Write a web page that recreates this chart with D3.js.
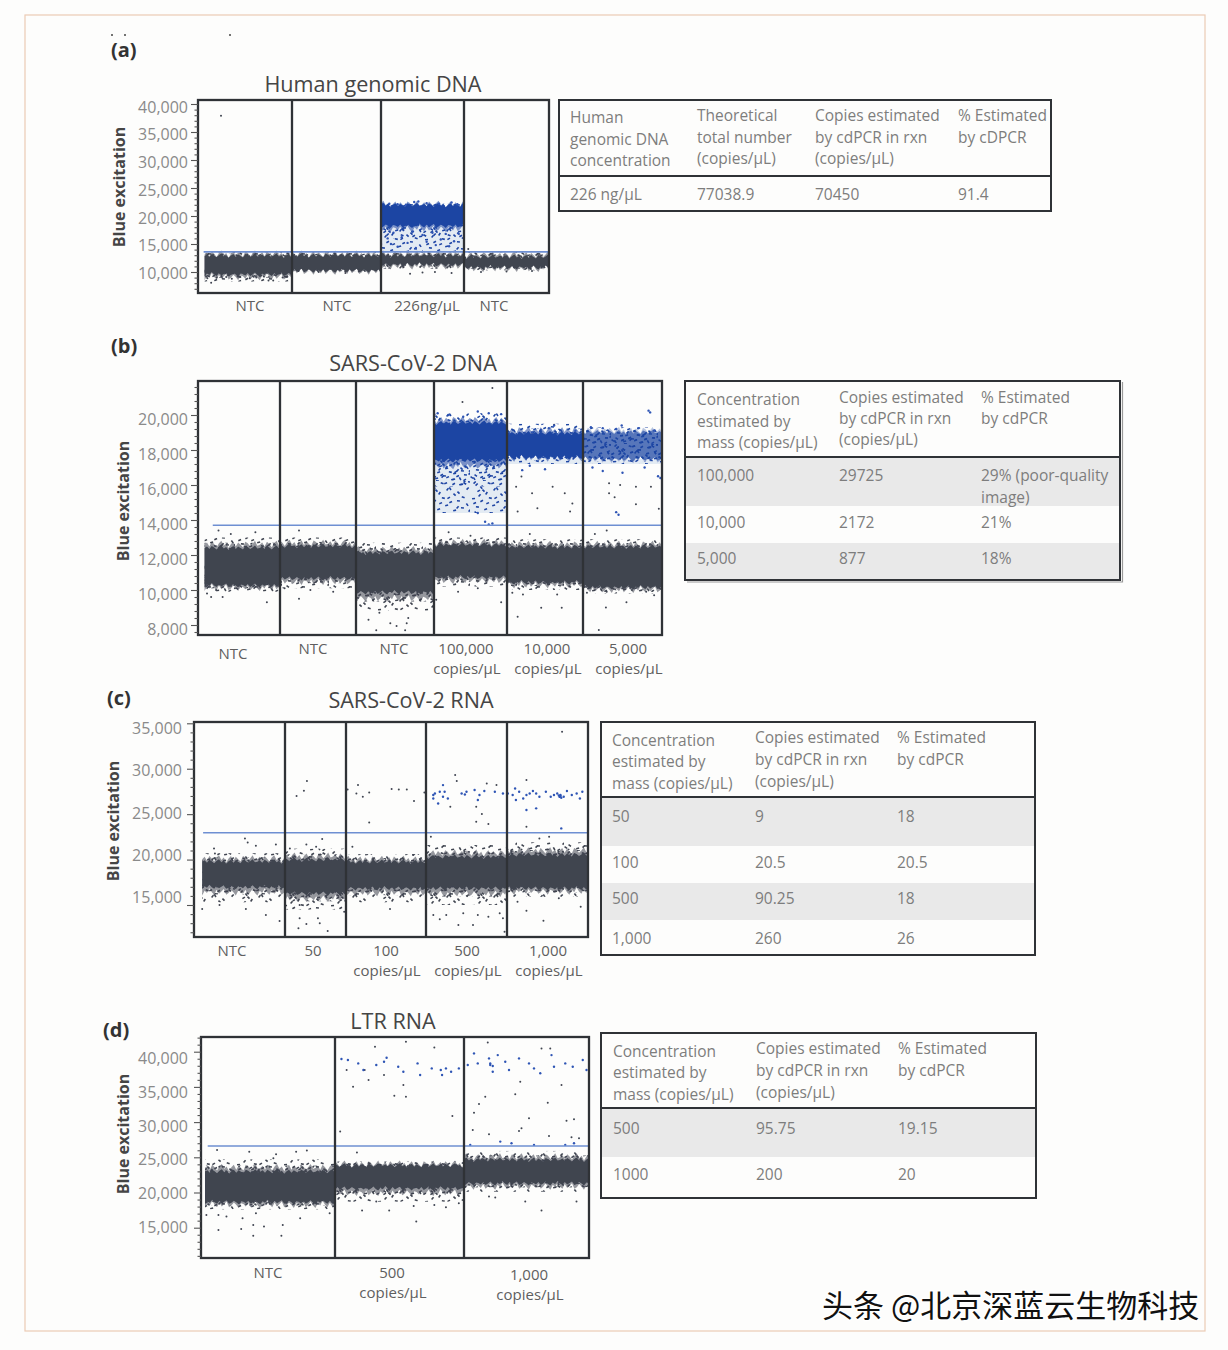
<!DOCTYPE html>
<html><head><meta charset="utf-8">
<script src="https://cdnjs.cloudflare.com/ajax/libs/d3/7.8.5/d3.min.js"></script>
<style>html,body{margin:0;padding:0;background:#fdfdfc}svg{display:block}text{font-family:"Open Sans",sans-serif}</style>
</head><body><svg id="c" width="1228" height="1350"></svg>
<script>
// ---------- panel (a) ----------
const aWells = [["NTC"],["NTC"],["226ng/µL"],["NTC"]];
const aTicks = [10000,15000,20000,25000,30000,35000,40000];
const aThreshold = 13600;
const aDarkBands = [[9640,12860,8300,13700],[10300,12900,10000,13600],[11400,12900,10600,13700],[10900,12700,10300,13600]];
const aBlueBands = [[2,18300,21900,13700,22300]];
const aDark = [[.245,37900],[.14,8100],[.1,8900],[.2,9000],[.3,9100],[.36,8800],[.45,9100],[.55,8900],[.62,9000],[.75,8500],[.8,8500],[.9,9000],[.95,9200],[.42,9300],[.25,9300],[.7,9200],[1.6,9800],[1.3,10000],[1.75,10100],[2.35,9700],[2.5,9900],[2.65,10000],[2.85,9800],[3.2,10000],[3.5,10100],[3.8,10200],[3.05,14100]];
const aBlue = [[2.1,22200],[2.2,22100],[2.4,22500],[2.45,22600],[2.55,22300],[2.7,22200],[2.85,22400],[2.92,22100],[2.3,22000],[2.08,16000],[2.12,15000],[2.15,17000],[2.2,14500],[2.25,16200],[2.32,15200],[2.38,17200],[2.42,14300],[2.5,16600],[2.55,15400],[2.62,17000],[2.66,14800],[2.72,15800],[2.78,16800],[2.82,14600],[2.88,15500],[2.93,16900]];
// ---------- panel (b) ----------
const bWells = [["NTC"],["NTC"],["NTC"],["100,000","copies/µL"],["10,000","copies/µL"],["5,000","copies/µL"]];
const bTicks = [8000,10000,12000,14000,16000,18000,20000];
const bThreshold = 13700;
const bDarkBands = [[10290,12400,9900,13000],[10690,12500,10100,13000],[9890,12110,8800,12700],[10740,12570,10200,13000],[10460,12460,10000,12900],[10170,12460,9800,12900]];
const bBlueBands = [[3,17430,19540,14400,20100],[4,17600,18950,17200,19500],[5,17500,19000,17200,19300]];
const bDark = [[.11,9800],[.16,9600],[.3,9600],[.84,9300],[.51,10300],[.22,10000],[.45,10100],[1.0,8100],[1.25,9500],[1.06,10100],[1.4,10000],[1.7,9900],[2.16,8300],[2.26,7700],[2.44,8100],[2.65,8100],[2.63,7700],[2.67,8400],[2.3,8700],[2.52,7950],[3.03,9450],[3.92,9300],[3.33,9900],[3.6,10100],[4.14,8470],[4.45,8990],[4.72,8990],[4.07,9850],[4.21,9750],[4.66,9750],[5.2,7710],[5.29,9000],[5.55,9300],[5.05,9850],[5.3,9900],[5.8,9900],[5.62,10000],[5.9,9700],[3.2,13300],[3.5,13100],[4.3,13200],[5.15,13200],[.25,13400],[.4,13200],[.7,13300],[1.25,13400],[3.8,21540],[3.39,20740],[4.62,19450],[4.33,18980],[4.19,16480],[4.12,15900],[4.33,15530],[4.6,15900],[4.76,15530],[4.14,14480],[4.4,14670],[4.86,14950],[4.83,14480],[5.33,16100],[5.47,16000],[5.67,15900],[5.86,15900],[5.33,15530],[5.67,14900],[5.4,15300],[5.96,14650],[5.3,13400]];
const bBlue = [[5.83,20250],[5.85,20150],[5.49,19400],[4.62,19400],[4.55,19250],[4.33,19000],[4.9,19100],[5.1,19300],[5.25,19250],[5.42,19200],[5.7,19250],[5.9,19100],[3.05,20100],[3.2,20000],[3.4,19900],[3.6,20200],[3.75,20100],[3.92,20050],[4.2,16850],[4.5,16900],[4.3,17100],[5.12,17000],[5.25,16800],[5.5,16700],[5.78,17000],[5.95,16500],[5.98,16400],[5.45,14300],[5.42,14450],[3.7,13900],[3.75,13750],[3.8,13800],[3.6,14400]];
// ---------- panel (c) ----------
const cWells = [["NTC"],["50"],["100","copies/µL"],["500","copies/µL"],["1,000","copies/µL"]];
const cTicks = [15000,20000,25000,30000,35000];
const cThreshold = 22950;
const cDarkBands = [[17000,19760,15300,20700],[16320,19950,14500,21200],[16870,19730,15300,20600],[16870,20280,15000,21600],[16870,20500,15900,21900]];
const cBlueBands = [];
const cDark = [[.56,22330],[.59,21890],[.68,21520],[.9,21670],[.22,21230],[.23,20680],[.09,14560],[.79,13900],[.94,13240],[.57,14560],[.28,15000],[1.36,28640],[1.31,27580],[1.19,26990],[1.61,22260],[1.35,21670],[1.24,13530],[1.22,12430],[1.35,12900],[1.54,13530],[1.57,12980],[1.7,12140],[1.97,14260],[1.24,15000],[1.08,21230],[1.51,21420],[2.15,28200],[2.02,27720],[2.13,27280],[2.21,26920],[2.29,27390],[2.57,27760],[2.66,27720],[2.76,27720],[2.85,26440],[2.29,24090],[2.98,27390],[2.55,14560],[2.08,21420],[2.84,20500],[3.36,29300],[3.38,28640],[3.75,28380],[3.87,28200],[3.3,25820],[3.62,25820],[3.69,25010],[3.62,24170],[3.77,23910],[3.06,22520],[3.09,13900],[3.25,13900],[3.17,13420],[3.4,12800],[3.58,12800],[3.46,14080],[3.64,13900],[3.77,13720],[3.91,14080],[3.95,13530],[3.97,12060],[4.68,34070],[4.24,28750],[4.24,23620],[4.13,15360],[4.24,14370],[4.45,13270],[4.91,14810],[4.64,15730],[4.4,22330],[4.52,22520]];
const cBlue = [[3.09,26730],[3.11,27280],[3.17,27470],[3.21,28200],[3.23,27470],[3.27,26730],[3.15,26180],[3.44,27280],[3.5,27470],[3.6,27650],[3.64,26550],[3.66,27100],[3.72,27540],[3.85,27470],[3.95,27280],[3.09,27100],[3.21,26920],[3.48,27170],[4.01,27280],[4.07,27100],[4.11,26550],[4.15,27470],[4.2,26730],[4.24,27100],[4.28,27280],[4.32,27540],[4.36,27280],[4.4,26920],[4.48,27470],[4.54,26920],[4.58,27100],[4.62,27280],[4.66,27100],[4.7,26920],[4.74,27540],[4.8,27100],[4.86,27280],[4.9,26730],[4.93,27470],[4.1,27830],[4.24,25450],[4.36,25640],[4.67,23430],[4.65,26900],[4.66,27000],[4.64,27050],[4.67,26800]];
// ---------- panel (d) ----------
const dWells = [["NTC"],["500","copies/µL"],["1,000","copies/µL"]];
const dTicks = [15000,20000,25000,30000,35000,40000];
const dThreshold = 26600;
const dDarkBands = [[18690,22950,17600,24700],[20640,23800,18700,24400],[21350,24600,20100,25900]];
const dBlueBands = [];
const dDark = [[.13,14690],[.3,14830],[.39,15400],[.47,15170],[.39,13840],[.6,13840],[.61,15400],[.13,16820],[.19,16580],[.31,16350],[.41,17060],[.74,16350],[.96,17060],[.04,16820],[.36,25800],[.79,25950],[.71,25800],[.56,25430],[.12,26040],[.54,24860],[1.31,40710],[1.55,41420],[1.77,40610],[1.09,37400],[1.23,37400],[1.38,36690],[1.53,35270],[1.14,35030],[1.26,35980],[1.46,33750],[1.55,33610],[1.91,30870],[1.04,28650],[1.17,25670],[1.63,15880],[1.21,17440],[1.42,17440],[1.86,17910],[1.61,18100],[1.77,18240],[1.32,18710],[1.96,18480],[2.19,41320],[2.62,40470],[2.69,40470],[2.45,35740],[2.78,35270],[2.17,33610],[2.41,33940],[2.12,32570],[2.67,32760],[2.08,31340],[2.52,30540],[2.82,30200],[2.88,30400],[2.07,28880],[2.44,28740],[2.46,29120],[2.2,28270],[2.68,28030],[2.86,27840],[2.92,27700],[2.62,17440],[2.49,18710],[2.2,19420],[2.9,18710],[2.25,19280]];
const dBlue = [[1.05,38960],[1.1,38820],[1.18,38340],[1.22,37400],[1.32,38110],[1.38,38580],[1.4,39150],[1.49,37870],[1.53,37160],[1.64,38340],[1.66,36690],[1.75,37630],[1.82,37400],[1.83,36690],[1.9,37160],[1.86,37630],[1.96,37630],[2.03,38110],[2.08,39760],[2.11,38340],[2.2,39050],[2.21,38110],[2.23,37160],[2.27,39520],[2.33,38580],[2.36,37400],[2.44,39050],[2.52,38340],[2.56,37630],[2.61,36930],[2.7,39520],[2.72,37870],[2.81,38340],[2.87,37870],[2.95,38820],[2.98,37400],[2.21,38340],[2.23,37960],[2.05,26760],[2.29,27230],[2.38,27000],[2.56,26760],[2.81,26760],[2.88,27000]];

// ---------- tables ----------
const tblHeadA = [["Human","genomic DNA","concentration"],["Theoretical","total number","(copies/µL)"],["Copies estimated","by cdPCR in rxn","(copies/µL)"],["% Estimated","by cDPCR"]];
const tblRowsA = [["226 ng/µL","77038.9","70450","91.4"]];
const tblHeadMass = [["Concentration","estimated by","mass (copies/µL)"],["Copies estimated","by cdPCR in rxn","(copies/µL)"],["% Estimated","by cdPCR"]];
const tblRowsB = [["100,000","29725",["29% (poor-quality","image)"]],["10,000","2172","21%"],["5,000","877","18%"]];
const tblRowsC = [["50","9","18"],["100","20.5","20.5"],["500","90.25","18"],["1,000","260","26"]];
const tblRowsD = [["500","95.75","19.15"],["1000","200","20"]];

// ---------- layout only ----------
const panels = [
 {letter:"(a)",lp:[111,57],title:"Human genomic DNA",tx:373,ty:91.5,L:198,R:549,T:100,B:293,breaks:[198,292,381,464,549],inset:.07,
  wells:aWells,ticks:aTicks,thr:aThreshold,thrFrom:.06,dark:aDarkBands,blue:aBlueBands,dd:aDark,bd:aBlue,
  y:[10000,272,40000,104],lab:[10000,273.5,40000,107],step:1000,lx:188,yt:[119,187],
  wl:[[250,306],[337,306],[427,306],[494,306]]},
 {letter:"(b)",lp:[111,353],title:"SARS-CoV-2 DNA",tx:413,ty:370.5,L:198,R:662,T:381,B:635,breaks:[198,280,356,434,507,583,662],inset:.08,
  wells:bWells,ticks:bTicks,thr:bThreshold,thrFrom:.18,dark:bDarkBands,blue:bBlueBands,dd:bDark,bd:bBlue,
  y:[8000,625,20000,415],lab:[8000,629.5,20000,419.5],step:400,lx:188,yt:[123,501],
  wl:[[233,654],[313,648.5],[394,648.5],[466,648.5],[547,648.5],[628,648.5]]},
 {letter:"(c)",lp:[107,705],title:"SARS-CoV-2 RNA",tx:411,ty:707.5,L:194,R:588,T:722,B:937,breaks:[194,285,346,426,507,588],inset:.09,
  wells:cWells,ticks:cTicks,thr:cThreshold,thrFrom:.1,dark:cDarkBands,blue:cBlueBands,dd:cDark,bd:cBlue,
  y:[15000,905,35000,723.3],lab:[15000,897.5,35000,728.5],step:1000,lx:182,yt:[113,821],
  wl:[[232,950.5],[313,950.5],[386,950.5],[467,950.5],[548,950.5]]},
 {letter:"(d)",lp:[103,1037],title:"LTR RNA",tx:393,ty:1028.5,L:201,R:589,T:1037,B:1258,breaks:[201,335,464,589],inset:.03,
  wells:dWells,ticks:dTicks,thr:dThreshold,thrFrom:.05,dark:dDarkBands,blue:dBlueBands,dd:dDark,bd:dBlue,
  y:[15000,1227.7,40000,1051.7],lab:[15000,1227.5,40000,1058.5],step:1000,lx:188,yt:[123,1134],
  wl:[[268,1272.5],[392,1272.5],[529,1274.5]]}
];
const tables = [
 {x:559,y:100,w:492,h:111,sep:176,cols:[570,697,815,958],head:tblHeadA,headY:[[118,140,161],[116,138,159],[116,138,159],[116,138]],rows:tblRowsA,rowY:[195],bands:[]},
 {x:685,y:381,w:435,h:199,sep:457,cols:[697,839,981],head:tblHeadMass,headY:[[400,422,443],[398,419,440],[398,419]],rows:tblRowsB,rowY:[476,523,559],bands:[[457,506],[543,580]],shadow:1},
 {x:601,y:722,w:434,h:233,sep:797,cols:[612,755,897],head:tblHeadMass,headY:[[741,762,784],[738,760,782],[738,760]],rows:tblRowsC,rowY:[817,863,899,939],bands:[[797,846],[883,920]]},
 {x:601,y:1033,w:435,h:165,sep:1108,cols:[613,756,898],head:tblHeadMass,headY:[[1052,1073,1095],[1049,1071,1093],[1049,1071]],rows:tblRowsD,rowY:[1129,1175],bands:[[1108,1157]]}
];
const speckTile = [[3,2],[11,5],[18,1],[27,6],[36,3],[43,8],[7,10],[15,13],[23,9],[31,12],[39,15],[2,17],[10,20],[19,16],[26,21],[34,19],[44,22],[6,25],[14,28],[22,24],[30,29],[38,26],[1,32],[12,34],[20,31],[28,35],[37,33],[45,30],[8,15],[41,1],[16,22],[33,27],[5,30],[24,17],[40,36],[13,8],[29,3],[35,10],[18,33],[3,22]];
const edgeWiggle = [0,1.5,-1,2,.5,-1.5,1,2.5,-.5,1,-2,.5,2,-1,1.5,0,-1.5,2,1,-1,.5,2.5,-.5];
const DARK="#3f4450", BLUE="#1c45a3", DOTBLUE="#2f55b5", LINE="#6e8fd2", FRAME="#2f3236";

const svg = d3.select("#c");
const defs = svg.append("defs");
defs.append("filter").attr("id","soft").attr("x","-5%").attr("y","-5%").attr("width","110%").attr("height","110%")
    .append("feGaussianBlur").attr("stdDeviation",.4);
[["spD",DARK,0],["spB",BLUE,0],["spD2",DARK,1],["spB2",BLUE,1]].forEach(([id,col,shift])=>{
  const p = defs.append("pattern").attr("id",id).attr("patternUnits","userSpaceOnUse").attr("width",47).attr("height",37);
  p.selectAll("rect").data(speckTile).join("rect")
   .attr("x",d=>(d[0]+shift*7)%47).attr("y",d=>(d[1]+shift*11)%37).attr("width",3).attr("height",1.6)
   .attr("transform",d=>`rotate(${(d[0]*37+d[1]*13)%120-60} ${(d[0]+shift*7)%47} ${(d[1]+shift*11)%37})`).attr("fill",col);
});

svg.append("rect").attr("width",1228).attr("height",1350).attr("fill","#fdfdfc");
svg.append("rect").attr("x",25).attr("y",15).attr("width",1180).attr("height",1316).attr("fill","none").attr("stroke","#eccbb4").attr("stroke-width",1.2);
svg.selectAll("circle.stray").data([[112,35],[125,35],[230,35]]).join("circle").attr("class","stray").attr("cx",d=>d[0]).attr("cy",d=>d[1]).attr("r",1).attr("fill","#444");

panels.forEach(P=>{
  const g = svg.append("g");
  const n = P.wells.length;
  const x = d3.scaleLinear().domain(d3.range(n+1)).range(P.breaks);
  const y = d3.scaleLinear().domain([P.y[0],P.y[2]]).range([P.y[1],P.y[3]]);
  const lab = d3.scaleLinear().domain([P.lab[0],P.lab[2]]).range([P.lab[1],P.lab[3]]);
  const from = i=> i===0? P.inset : i;

  const marks = g.append("g").attr("filter","url(#soft)");
  const rectBand = (i,lo,hi,fill)=>{
    const yy=Math.max(y(hi),P.T), yb=Math.min(y(lo),P.B);
    marks.append("rect").attr("x",x(from(i))).attr("width",x(i+1)-x(from(i))).attr("y",yy).attr("height",yb-yy).attr("fill",fill);
  };
  const ragged = (i,lo,hi,fill,amp,op)=>{
    const xs=d3.range(x(from(i)),x(i+1)+.1,2.4); xs.push(x(i+1));
    const w=edgeWiggle, m=w.length;
    const ar=d3.area().x(d=>d).y0((d,k)=>Math.min(P.B,y(lo)+w[(k+i*5+7)%m]*amp)).y1((d,k)=>Math.max(P.T,y(hi)-w[(k+i*3)%m]*amp));
    marks.append("path").attr("d",ar(xs)).attr("fill",fill).attr("opacity",op);
  };
  P.blue.forEach(([w,cl,ch,fl,fh])=>{
    rectBand(w,fl,cl,"rgba(28,69,163,.1)");
    rectBand(w,fl,fh,"url(#spB)"); rectBand(w,(fl+cl)/2,(fh+ch)/2,"url(#spB2)");
  });
  P.dark.forEach(([cl,ch,fl,fh],i)=>{
    rectBand(i,fl,fh,"url(#spD)"); rectBand(i,(fl+cl)/2,(fh+ch)/2,"url(#spD2)");
    ragged(i,cl-(cl-fl)*.3,ch+(fh-ch)*.3,DARK,1.6,.55);
  });
  P.blue.forEach(([w,cl,ch,fl,fh])=>{
    const sparse = P===panels[1]&&w===5;
    ragged(w,cl-(cl-fl)*.1,ch+(fh-ch)*.3,BLUE,1.6,sparse?.3:.55);
    ragged(w,cl,ch,BLUE,1,sparse?.62:1);
    if(sparse) rectBand(w,cl,ch,"url(#spB2)");
  });
  P.dark.forEach(([cl,ch],i)=>ragged(i,cl,ch,DARK,1,1));
  marks.selectAll("circle.d").data(P.dd).join("circle").attr("class","d").attr("cx",d=>x(d[0])).attr("cy",d=>y(d[1])).attr("r",1).attr("fill",DARK);
  marks.selectAll("circle.b").data(P.bd).join("circle").attr("class","b").attr("cx",d=>x(d[0])).attr("cy",d=>y(d[1])).attr("r",1.2).attr("fill",DOTBLUE);

  g.append("line").attr("x1",x(P.thrFrom)).attr("x2",P.R).attr("y1",y(P.thr)).attr("y2",y(P.thr)).attr("stroke",LINE).attr("stroke-width",1.6);
  g.selectAll("line.div").data(P.breaks.slice(1,-1)).join("line").attr("class","div").attr("x1",d=>d).attr("x2",d=>d).attr("y1",P.T).attr("y2",P.B).attr("stroke",FRAME).attr("stroke-width",2.3);
  g.append("rect").attr("x",P.L).attr("y",P.T).attr("width",P.R-P.L).attr("height",P.B-P.T).attr("fill","none").attr("stroke",FRAME).attr("stroke-width",2.3);

  // y axis ticks
  const lo=y.invert(P.B), hi=y.invert(P.T);
  const base=P.ticks[0];
  const minor=[]; for(let i=-40;i<60;i++){const v=base+i*P.step; if(v>lo&&v<hi&&!P.ticks.includes(v)) minor.push(v);}
  const minorAxis=d3.axisLeft(y).tickValues(minor).tickSize(3.5).tickFormat("");
  const majorAxis=d3.axisLeft(y).tickValues(P.ticks).tickSize(7).tickFormat("");
  [minorAxis,majorAxis].forEach(a=>{
    const ga=g.append("g").attr("transform",`translate(${P.L},0)`).call(a);
    ga.select(".domain").remove();
    ga.selectAll("line").attr("stroke","#555").attr("stroke-width",1.1);
  });
  g.selectAll("text.tl").data(P.ticks).join("text").attr("class","tl").attr("x",P.lx).attr("y",d=>lab(d)+5.5)
    .attr("text-anchor","end").attr("font-size",16).attr("fill","#8a8a8a").text(d3.format(","));

  g.append("text").attr("transform",`translate(${P.yt[0]+5.5},${P.yt[1]}) rotate(-90)`).attr("text-anchor","middle")
    .attr("font-size",16).attr("font-weight",700).attr("fill","#454545").text("Blue excitation");
  g.append("text").attr("x",P.tx).attr("y",P.ty).attr("text-anchor","middle").attr("font-size",21.6).attr("fill","#454545").text(P.title);
  g.append("text").attr("x",P.lp[0]).attr("y",P.lp[1]).attr("font-size",20).attr("font-weight",700).attr("fill","#333").text(P.letter);

  P.wells.forEach((lines,i)=>lines.forEach((t,k)=>{
    g.append("text").attr("x",P.wl[i][0]+(k?1:0)).attr("y",P.wl[i][1]+5+k*20.6).attr("text-anchor","middle")
     .attr("font-size",15).attr("fill","#5f5f5f").text(t);
  }));
});

tables.forEach(T=>{
  const g=svg.append("g");
  g.selectAll("rect.bd").data(T.bands).join("rect").attr("class","bd").attr("x",T.x).attr("width",T.w).attr("y",d=>d[0]).attr("height",d=>d[1]-d[0]).attr("fill","#e9e9e9");
  if(T.shadow) g.append("path").attr("d",`M${T.x+T.w+2.5},${T.y+1}V${T.y+T.h+2}H${T.x+2}`).attr("fill","none").attr("stroke","#9a9a9a").attr("stroke-width",1.2);
  g.append("rect").attr("x",T.x).attr("y",T.y).attr("width",T.w).attr("height",T.h).attr("fill","none").attr("stroke",FRAME).attr("stroke-width",2);
  g.append("line").attr("x1",T.x).attr("x2",T.x+T.w).attr("y1",T.sep).attr("y2",T.sep).attr("stroke",FRAME).attr("stroke-width",2);
  T.head.forEach((lines,c)=>lines.forEach((s,k)=>{
    g.append("text").attr("x",T.cols[c]).attr("y",T.headY[c][k]+5).attr("font-size",15.5).attr("fill","#7d7d7d").text(s);
  }));
  T.rows.forEach((r,i)=>r.forEach((cell,c)=>{
    [].concat(cell).forEach((s,k)=>{
      g.append("text").attr("x",T.cols[c]).attr("y",T.rowY[i]+5+k*22).attr("font-size",15.5).attr("fill","#7d7d7d").text(s);
    });
  }));
});

svg.append("text").attr("x",822).attr("y",1317).attr("font-size",31).attr("fill","#111").attr("stroke","#fff").attr("stroke-width",3).attr("paint-order","stroke")
  .style("font-family",'"Noto Sans CJK SC",sans-serif').text("头条 @北京深蓝云生物科技");
</script></body></html>
